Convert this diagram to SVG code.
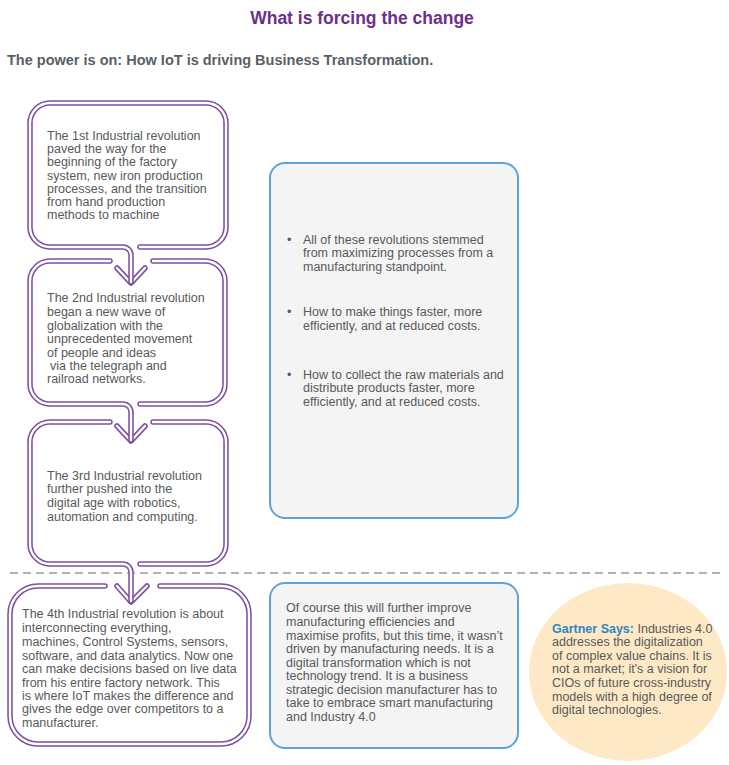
<svg xmlns="http://www.w3.org/2000/svg" width="729" height="765" viewBox="0 0 729 765">
<style>
text{font-family:"Liberation Sans",Arial,sans-serif;}
.t{font-size:12.5px;fill:#58595b;}
.title{font-size:17.5px;font-weight:bold;fill:#6b2f8e;}
.sub{font-size:14.5px;font-weight:bold;fill:#5a5f66;}
.fo{fill:none;stroke:#7b50a0;stroke-width:5.5;stroke-linecap:round;stroke-linejoin:round;}
.fi{fill:none;stroke:#ffffff;stroke-width:2.4;stroke-linecap:round;stroke-linejoin:round;}
.blue{fill:#f4f4f4;stroke:#5ea2da;stroke-width:2;}
.dash{stroke:#666;stroke-width:1.2;stroke-dasharray:8 5;fill:none;}
.g{font-weight:bold;fill:#2e86c8;}
</style>
<defs>
<path id="p1a" d="M140,247 H206 A20,20 0 0 0 226,227 V123 A20,20 0 0 0 206,103 H50 A20,20 0 0 0 30,123 V227 A20,20 0 0 0 50,247 H123 A8,8 0 0 1 131,255 V282"/>
<path id="p1b" d="M117,268 L131,283 L145,268"/>
<path id="p2a" d="M153,261 H205 A20,20 0 0 1 225,281 V384 A20,20 0 0 1 205,404 H140"/>
<path id="p2b" d="M110,261 H50 A20,20 0 0 0 30,281 V384 A20,20 0 0 0 50,404 H123 A8,8 0 0 1 131,412 V440"/>
<path id="p2c" d="M117,426 L131,441 L145,426"/>
<path id="p3a" d="M153,422 H206 A20,20 0 0 1 226,442 V544 A20,20 0 0 1 206,564 H140"/>
<path id="p3b" d="M110,422 H50 A20,20 0 0 0 30,442 V544 A20,20 0 0 0 50,564 H123 A8,8 0 0 1 131,572 V601"/>
<path id="p3c" d="M117,586 L131,602 L147,586"/>
<path id="p4a" d="M160,586 H221 A28,28 0 0 1 249,614 V716 A28,28 0 0 1 221,744 H38 A28,28 0 0 1 10,716 V614 A28,28 0 0 1 38,586 H105"/>
</defs>

<text class="title" x="362" y="24" text-anchor="middle">What is forcing the change</text>
<text class="sub" x="7" y="65">The power is on: How IoT is driving Business Transformation.</text>

<line class="dash" x1="10" y1="573" x2="720" y2="573"/>

<g id="connectors">
<use href="#p1b" class="fo"/><use href="#p1b" class="fi"/>
<use href="#p2c" class="fo"/><use href="#p2c" class="fi"/>
<use href="#p3c" class="fo"/><use href="#p3c" class="fi"/>
</g>

<g id="rev1">
<use href="#p1a" class="fo"/><use href="#p1a" class="fi"/>
<text class="t" x="47" y="140">The 1st Industrial revolution</text>
<text class="t" x="47" y="153">paved the way for the</text>
<text class="t" x="47" y="166">beginning of the factory</text>
<text class="t" x="47" y="180">system, new iron production</text>
<text class="t" x="47" y="193">processes, and the transition</text>
<text class="t" x="47" y="206">from hand production</text>
<text class="t" x="47" y="219">methods to machine</text>
</g>

<g id="rev2">
<use href="#p2a" class="fo"/><use href="#p2a" class="fi"/>
<use href="#p2b" class="fo"/><use href="#p2b" class="fi"/>
<text class="t" x="47" y="302">The 2nd Industrial revolution</text>
<text class="t" x="47" y="316">began a new wave of</text>
<text class="t" x="47" y="330">globalization with the</text>
<text class="t" x="47" y="343">unprecedented movement</text>
<text class="t" x="47" y="357">of people and ideas</text>
<text class="t" x="50" y="370">via the telegraph and</text>
<text class="t" x="47" y="383">railroad networks.</text>
</g>

<g id="rev3">
<use href="#p3a" class="fo"/><use href="#p3a" class="fi"/>
<use href="#p3b" class="fo"/><use href="#p3b" class="fi"/>
<text class="t" x="47" y="480">The 3rd Industrial revolution</text>
<text class="t" x="47" y="493">further pushed into the</text>
<text class="t" x="47" y="507">digital age with robotics,</text>
<text class="t" x="47" y="521">automation and computing.</text>
</g>

<g id="rev4">
<use href="#p4a" class="fo"/><use href="#p4a" class="fi"/>
<text class="t" x="22" y="618">The 4th Industrial revolution is about</text>
<text class="t" x="22" y="632">interconnecting everything,</text>
<text class="t" x="22" y="646">machines, Control Systems, sensors,</text>
<text class="t" x="22" y="660">software, and data analytics. Now one</text>
<text class="t" x="22" y="673">can make decisions based on live data</text>
<text class="t" x="22" y="687">from his entire factory network. This</text>
<text class="t" x="22" y="700">is where IoT makes the difference and</text>
<text class="t" x="22" y="713">gives the edge over competitors to a</text>
<text class="t" x="22" y="727">manufacturer.</text>
</g>

<g id="bullets">
<rect class="blue" x="270" y="163" width="248" height="355" rx="15"/>
<text class="t" x="287" y="244">•</text>
<text class="t" x="303" y="244">All of these revolutions stemmed</text>
<text class="t" x="303" y="257">from maximizing processes from a</text>
<text class="t" x="303" y="271">manufacturing standpoint.</text>
<text class="t" x="287" y="316">•</text>
<text class="t" x="303" y="316">How to make things faster, more</text>
<text class="t" x="303" y="330">efficiently, and at reduced costs.</text>
<text class="t" x="287" y="379">•</text>
<text class="t" x="303" y="379">How to collect the raw materials and</text>
<text class="t" x="303" y="392">distribute products faster, more</text>
<text class="t" x="303" y="406">efficiently, and at reduced costs.</text>
</g>

<g id="ofcourse">
<rect class="blue" x="270" y="583" width="248" height="165" rx="15"/>
<text class="t" x="286" y="612">Of course this will further improve</text>
<text class="t" x="286" y="626">manufacturing efficiencies and</text>
<text class="t" x="286" y="640">maximise profits, but this time, it wasn’t</text>
<text class="t" x="286" y="653">driven by manufacturing needs. It is a</text>
<text class="t" x="286" y="667">digital transformation which is not</text>
<text class="t" x="286" y="680">technology trend. It is a business</text>
<text class="t" x="286" y="694">strategic decision manufacturer has to</text>
<text class="t" x="286" y="707">take to embrace smart manufacturing</text>
<text class="t" x="286" y="721">and Industry 4.0</text>
</g>

<g id="gartner">
<ellipse cx="628" cy="672" rx="99" ry="89" fill="#fde9c6"/>
<text class="t" x="552" y="633"><tspan class="g">Gartner Says:</tspan> Industries 4.0</text>
<text class="t" x="552" y="646">addresses the digitalization</text>
<text class="t" x="552" y="660">of complex value chains. It is</text>
<text class="t" x="552" y="673">not a market; it's a vision for</text>
<text class="t" x="552" y="687">CIOs of future cross-industry</text>
<text class="t" x="552" y="701">models with a high degree of</text>
<text class="t" x="552" y="714">digital technologies.</text>
</g>
</svg>
